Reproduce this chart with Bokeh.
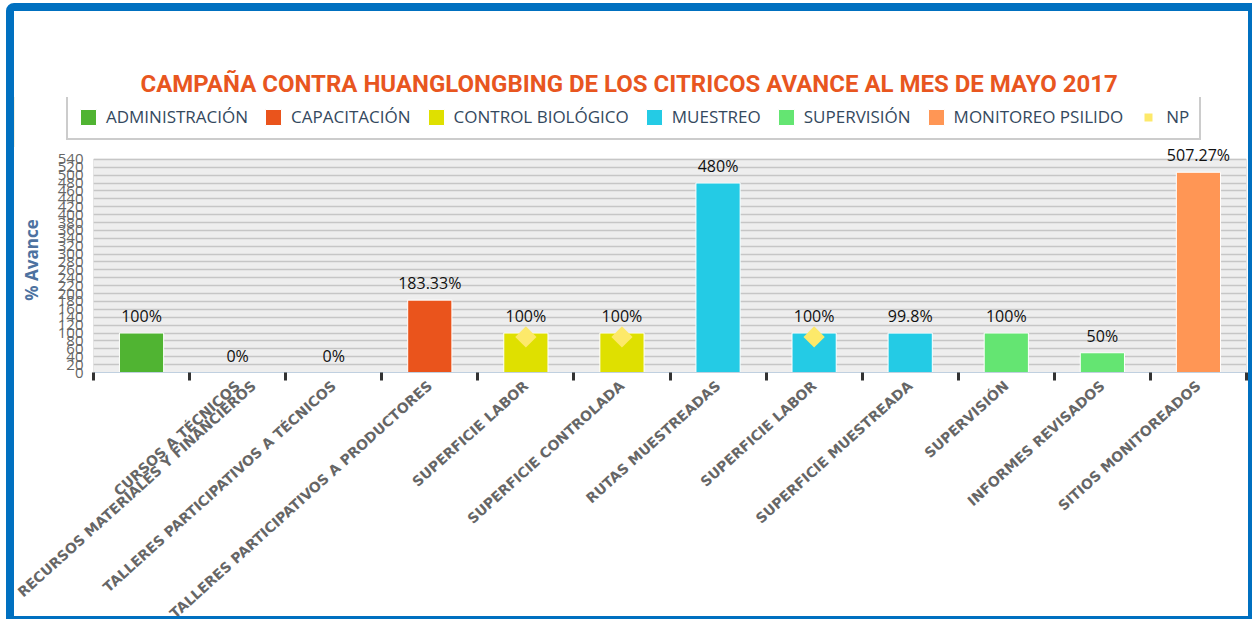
import math
from bokeh.plotting import figure
from bokeh.layouts import column
from bokeh.models import (Range1d, FixedTicker, Legend, LegendItem, ColumnDataSource)
from bokeh.embed import file_html
from bokeh.resources import INLINE
from bokeh.core.properties import value

title_text = "CAMPAÑA CONTRA HUANGLONGBING DE LOS CITRICOS AVANCE AL MES DE MAYO 2017"
y_title = "% Avance"

categories = [
    "RECURSOS MATERIALES Y FINANCIEROS",
    "CURSOS A TÉCNICOS",
    "TALLERES PARTICIPATIVOS A TÉCNICOS",
    "TALLERES PARTICIPATIVOS A PRODUCTORES",
    "SUPERFICIE LABOR",
    "SUPERFICIE CONTROLADA",
    "RUTAS MUESTREADAS",
    "SUPERFICIE LABOR",
    "SUPERFICIE MUESTREADA",
    "SUPERVISIÓN",
    "INFORMES REVISADOS",
    "SITIOS MONITOREADOS",
]
groups = [
    "ADMINISTRACIÓN", "CAPACITACIÓN", "CAPACITACIÓN", "CAPACITACIÓN",
    "CONTROL BIOLÓGICO", "CONTROL BIOLÓGICO", "MUESTREO", "MUESTREO", "MUESTREO",
    "SUPERVISIÓN", "SUPERVISIÓN", "MONITOREO PSILIDO",
]
avance = [100, 0, 0, 183.33, 100, 100, 480, 100, 99.8, 100, 50, 507.27]
avance_labels = ["100%", "0%", "0%", "183.33%", "100%", "100%", "480%",
                 "100%", "99.8%", "100%", "50%", "507.27%"]

np_index = [4, 5, 7]
np_values = [90, 90, 90]

series_names = ["ADMINISTRACIÓN", "CAPACITACIÓN", "CONTROL BIOLÓGICO", "MUESTREO",
                "SUPERVISIÓN", "MONITOREO PSILIDO"]
series_colors = ["#50b432", "#ea541c", "#dfe000", "#24cbe5", "#64e572", "#ff9655"]
np_name = "NP"
np_color = "#fde96a"

y_max = 540
y_step = 20
y_ticks = list(range(0, y_max + 1, y_step))

n = len(categories)
centers = [i + 0.5 for i in range(n)]
bounds = [float(i) for i in range(n + 1)]

can_unalign = "frame_align" in figure().properties()

# ---------------- header: title + legend ----------------
head = figure(width=1234, height=136, x_range=Range1d(0, 1), y_range=Range1d(0, 1),
              output_backend="svg", toolbar_location=None,
              x_axis_location=None, y_axis_location=None,
              min_border_left=0, min_border_right=0, min_border_top=86, min_border_bottom=0,
              background_fill_color="white", border_fill_color="white",
              outline_line_color=None, title=title_text)
head.xgrid.visible = False
head.ygrid.visible = False
head.title.text_font = "Roboto"
head.title.text_font_size = "24px"
head.title.text_font_style = "bold"
head.title.text_color = "#e8561f"
head.title.align = "left"
head.title.standoff = 0

items = []
for name, color in zip(series_names, series_colors):
    r = head.vbar(x=[-5], top=[1], width=0.5, fill_color=color, line_color="white")
    items.append(LegendItem(label=name, renderers=[r]))
rn = head.scatter(x=[-5], y=[0.5], marker="square", angle=math.pi / 4, size=15,
                  fill_color=np_color, line_color=None)
items.append(LegendItem(label=np_name, renderers=[rn]))

legend = Legend(items=items, orientation="horizontal",
                label_text_font="Open Sans", label_text_font_size="17px",
                label_text_color="#34495e", glyph_width=20, glyph_height=20,
                label_standoff=8, spacing=15, padding=10, margin=0,
                border_line_color="#9a9a9a", border_line_width=2,
                background_fill_color="white", background_fill_alpha=1)
head.add_layout(legend, "center")

# ---------------- chart ----------------
p = figure(width=1234, height=525, x_range=Range1d(0, n), y_range=Range1d(0, 570),
           output_backend="svg", toolbar_location=None,
           min_border_left=79, min_border_right=2, min_border_top=0,
           min_border_bottom=300,
           background_fill_color="white", border_fill_color="white",
           outline_line_color=None)
p.styles = {"flex-shrink": "0"}

if can_unalign:
    head.frame_align = False
    p.frame_align = False
    legend.location = (52, 7)
    head.title.offset = 126
else:
    legend.location = (0, 7)
    head.title.offset = 47

p.quad(left=[0], right=[n], bottom=[0], top=[y_max], fill_color="#eeeeee",
       line_color="#cfcfcf", line_width=1, level="underlay")

p.xgrid.visible = False
p.ygrid.grid_line_color = "#c6c6c6"
p.ygrid.grid_line_width = 1.5
p.ygrid.level = "underlay"

p.yaxis.ticker = FixedTicker(ticks=y_ticks)
p.yaxis.axis_label = y_title
p.yaxis.axis_label_text_font = "Open Sans"
p.yaxis.axis_label_text_font_style = "bold"
p.yaxis.axis_label_text_font_size = "17px"
p.yaxis.axis_label_text_color = "#4d72a0"
p.yaxis.axis_label_standoff = 12
p.yaxis.axis_line_color = None
p.yaxis.major_tick_line_color = None
p.yaxis.minor_tick_line_color = None
p.yaxis.major_label_text_font = "Open Sans"
p.yaxis.major_label_text_font_size = "15px"
p.yaxis.major_label_text_color = "#666666"
p.yaxis.major_label_standoff = 4

p.xaxis.ticker = FixedTicker(ticks=centers, minor_ticks=bounds)
p.xaxis.major_label_overrides = {c: lab for c, lab in zip(centers, categories)}
p.xaxis.major_label_orientation = math.radians(42)
p.xaxis.major_tick_line_color = None
p.xaxis.major_tick_out = 8
p.xaxis.major_tick_in = 0
p.xaxis.minor_tick_line_color = "#333333"
p.xaxis.minor_tick_line_width = 3
p.xaxis.minor_tick_out = 8
p.xaxis.minor_tick_in = 0
p.xaxis.axis_line_color = "#c0d0e0"
p.xaxis.axis_line_width = 1
p.xaxis.major_label_text_font = "DejaVu Sans"
p.xaxis.major_label_text_font_style = "bold"
p.xaxis.major_label_text_font_size = "14px"
p.xaxis.major_label_text_color = "#666666"
p.xaxis.major_label_standoff = 3

for name, color in zip(series_names, series_colors):
    xs = [centers[i] for i in range(n) if groups[i] == name]
    ys = [avance[i] for i in range(n) if groups[i] == name]
    src = ColumnDataSource(dict(x=xs, top=ys))
    p.vbar(x="x", top="top", width=0.46, bottom=0, source=src,
           fill_color=color, line_color="white", line_width=1)

np_src = ColumnDataSource(dict(x=[centers[i] for i in np_index], y=np_values))
p.scatter(x="x", y="y", source=np_src, marker="square", angle=math.pi / 4,
          size=15, fill_color=np_color, line_color=None)

lab_src = ColumnDataSource(dict(x=centers, y=avance, t=avance_labels))
p.text(x="x", y="y", text="t", source=lab_src, text_align="center", text_baseline="bottom",
       y_offset=-6, text_font=value("Open Sans"), text_font_size="16px", text_color="#111111")

layout = column(head, p, spacing=0,
                styles={"border-style": "solid", "border-color": "#0070c0",
                        "border-width": "8px 4px 3px 8px",
                        "border-top-left-radius": "8px",
                        "margin-left": "6px", "margin-top": "3px",
                        "height": "616px", "overflow": "hidden"})

open("out.html", "w").write(file_html(layout, INLINE))
